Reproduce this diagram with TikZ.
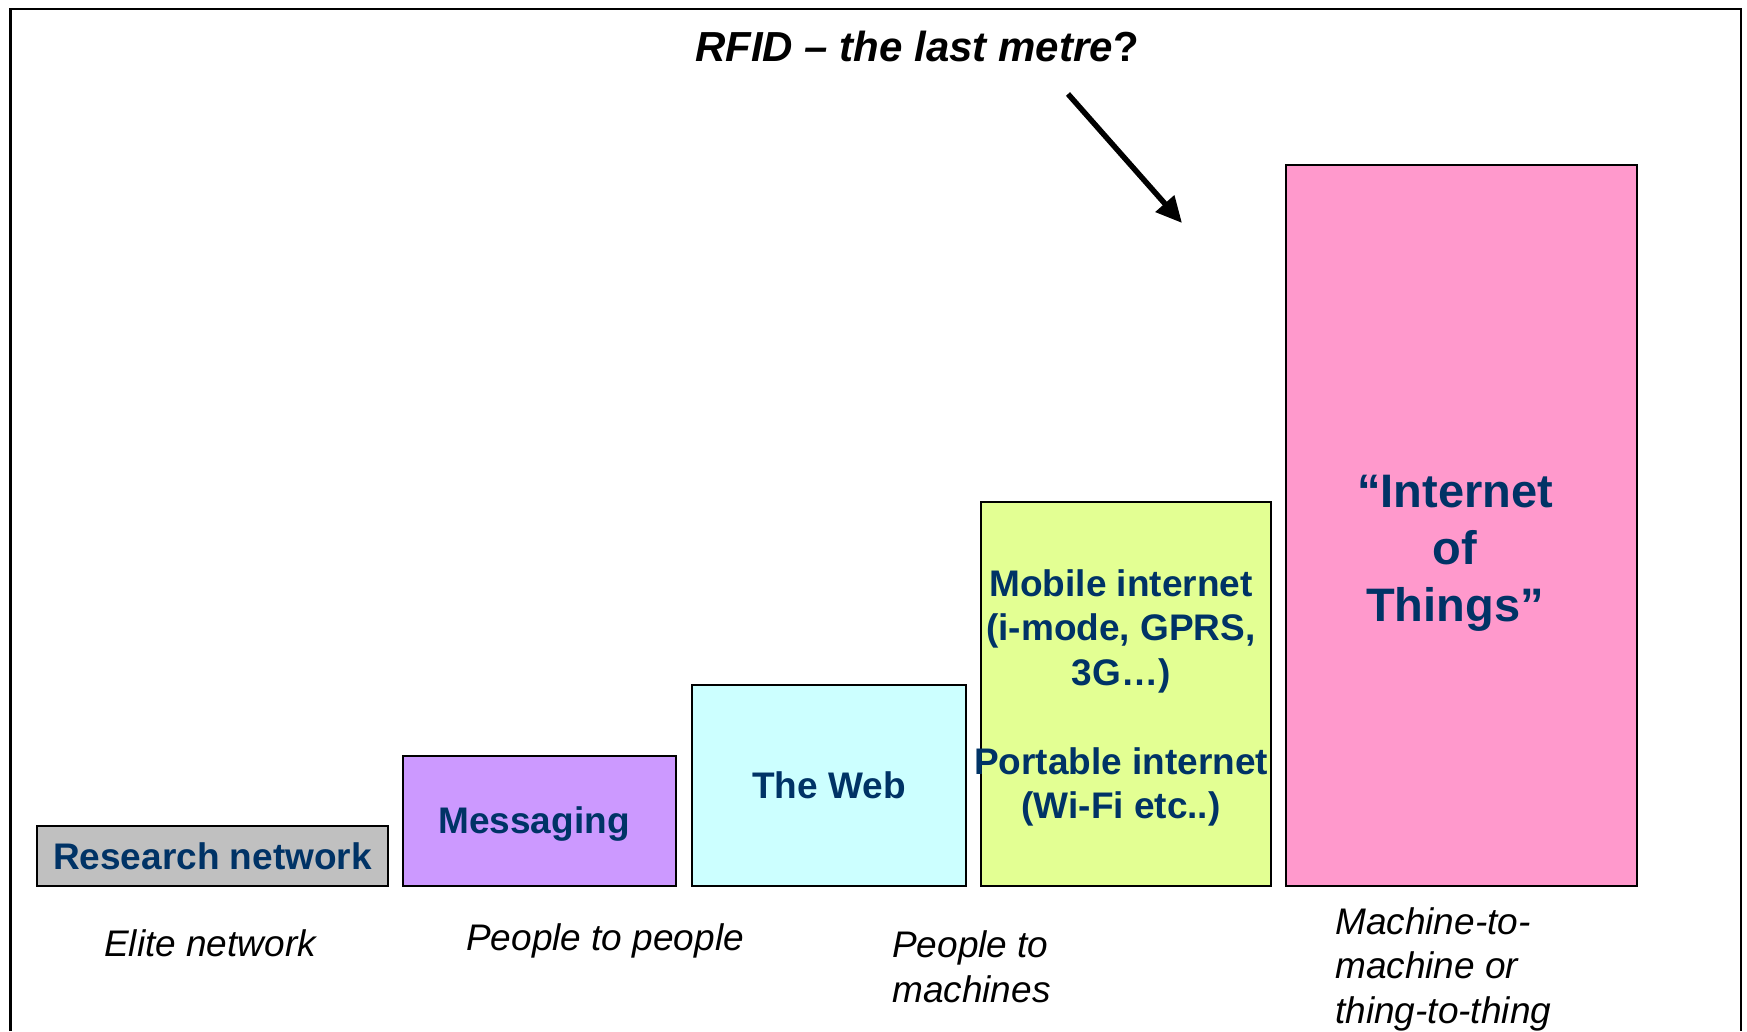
\documentclass[tikz,border=0pt]{standalone}
\usepackage{fontspec}
\setmainfont{Liberation Sans}
\usetikzlibrary{arrows.meta}
\definecolor{navy}{HTML}{003366}
\definecolor{graybox}{HTML}{C0C0C0}
\definecolor{lilac}{HTML}{CC99FF}
\definecolor{paleaqua}{HTML}{CCFFFF}
\definecolor{limeyellow}{HTML}{E3FF93}
\definecolor{pinkbox}{HTML}{FF99CC}
\begin{document}
\begin{tikzpicture}[x=1pt,y=-1pt,
  bar/.style={draw=black,line width=2pt,inner sep=0pt,anchor=north west},
  barlabel/.style={text=navy,font=\fontsize{37}{44.5}\selectfont\bfseries,align=center,inner sep=0pt},
  biglabel/.style={text=navy,font=\fontsize{47}{57}\selectfont\bfseries,align=center,inner sep=0pt},
  caption/.style={font=\fontsize{37}{44.5}\selectfont\itshape,align=left,inner sep=0pt,anchor=base west},
  titlestyle/.style={font=\fontsize{42}{50}\selectfont\bfseries,inner sep=0pt,anchor=base},
  bigarrow/.style={line width=5.5pt,-{Triangle[length=26pt,width=24pt]}}
]
\useasboundingbox (0,0) rectangle (1747,1031);
\fill[white] (0,0) rectangle (1747,1031);
\draw[line width=2.5pt] (10.5,1031) -- (10.5,9) -- (1741,9) -- (1741,1031);

\node[titlestyle] (title) at (917,61) {{\itshape RFID – the last metre}?};

\node[bar,fill=graybox,minimum width=351pt,minimum height=60pt,barlabel] (research) at (36,825) {Research network};
\node[bar,fill=lilac,minimum width=273pt,minimum height=130pt] (messaging) at (402,755) {};
\node[barlabel] (messagingtext) at (534,824) {Messaging};
\node[bar,fill=paleaqua,minimum width=274pt,minimum height=201pt,barlabel] (web) at (691,684) {The Web};
\node[bar,fill=limeyellow,minimum width=290pt,minimum height=384pt] (mobile) at (980,501) {};
\node[bar,fill=pinkbox,minimum width=351pt,minimum height=721pt] (iot) at (1285,164) {};

\node[barlabel] (mobiletext) at (1121,698) {Mobile internet\\(i-mode, GPRS,\\3G…)\\[44.5pt]Portable internet\\(Wi-Fi etc..)};
\node[biglabel] (iottext) at (1455,553) {“Internet\\of\\Things”};

\node[caption] (elite) at (104,956) {Elite network};
\node[caption] (p2p) at (466,950) {People to people};
\node[caption] (p2m) at (892,1002) {People to\\machines};
\node[caption] (m2m) at (1335,1023) {Machine-to-\\machine or\\thing-to-thing};

\coordinate (arrowstart) at (1068,94);
\coordinate (arrowend) at (1182,223);
\draw[bigarrow] (arrowstart) -- (arrowend);
\end{tikzpicture}
\end{document}
